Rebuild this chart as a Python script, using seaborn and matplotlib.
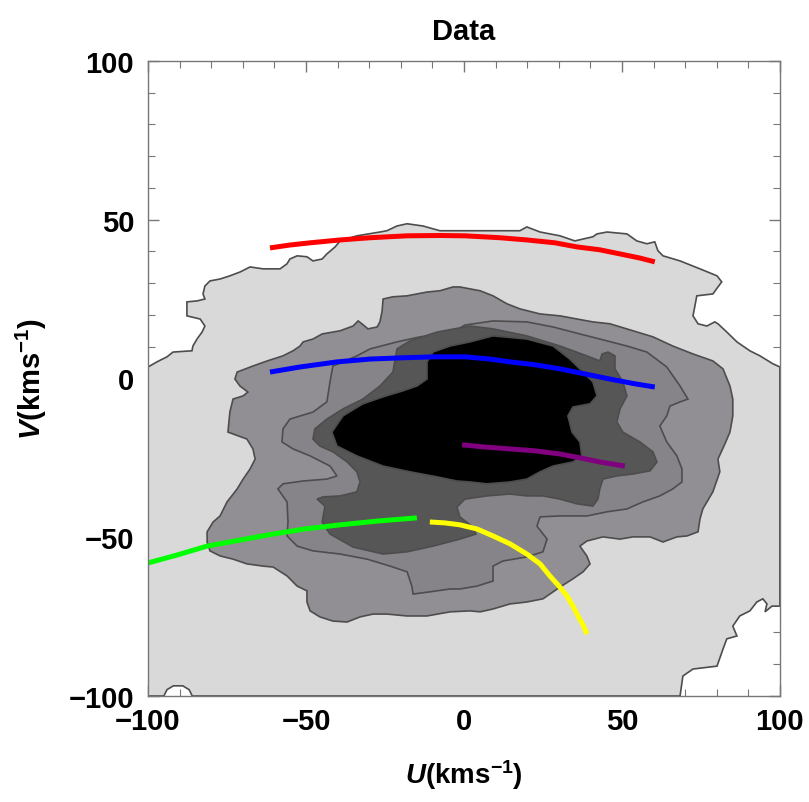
import matplotlib
matplotlib.use("Agg")
import matplotlib.pyplot as plt
from matplotlib.ticker import MultipleLocator
import seaborn as sns
import pandas as pd

# contour levels, (U, V) in km/s
level1 = [(-100, 3.6), (-97.2, 5.2), (-94.0, 6.8), (-92.1, 8.3), (-86.1, 8.7), (-85.8, 10.2),
          (-84.5, 12.4), (-82.9, 14.6), (-82.0, 16.5), (-83.5, 18.7), (-87.7, 19.7), (-87.7, 24.1),
          (-84.5, 24.4), (-82.0, 25.0), (-82.6, 26.6), (-82.0, 29.1), (-80.4, 30.7), (-77.2, 31.3),
          (-74.1, 32.3), (-70.9, 33.5), (-67.7, 35.1), (-63.6, 34.5), (-58.2, 34.5), (-56.0, 36.1),
          (-55.1, 37.6), (-52.8, 38.6), (-49.7, 38.3), (-47.8, 37.0), (-44.9, 37.6), (-43.4, 39.2),
          (-40.8, 41.4), (-39.2, 43.3), (-33.9, 44.9), (-26.6, 46.1), (-24.4, 46.5), (-21.2, 48.0),
          (-18.0, 48.7), (-13.0, 48.0), (-7.6, 46.5), (1.9, 46.5), (9.2, 46.5), (17.7, 46.5),
          (19.9, 47.7), (24.1, 46.1), (30.4, 44.9), (35.1, 43.3), (40.8, 44.6), (42.1, 45.5),
          (45.3, 46.1), (51.6, 45.5), (54.7, 43.3), (57.9, 42.4), (60.4, 43.0), (61.4, 40.2),
          (63.0, 38.6), (68.4, 37.0), (74.7, 34.5), (80.1, 32.3), (81.6, 30.4), (80.4, 28.8),
          (78.8, 26.6), (73.7, 26.0), (73.1, 22.8), (72.5, 19.7), (74.1, 17.2), (76.9, 16.5),
          (79.4, 17.8), (80.4, 17.2), (83.2, 14.6), (86.4, 11.5), (90.5, 8.7), (93.7, 7.1),
          (97.8, 4.6), (100, 3.6), (100, -71.7), (97.5, -71.7), (95.3, -73.5), (95.9, -71.0),
          (94.6, -69.4), (92.7, -70.4), (90.5, -73.2), (87.3, -74.8), (85.1, -78.0), (86.4, -81.1),
          (83.2, -82.0), (82.0, -85.2), (80.1, -90.6), (72.5, -91.5), (69.3, -93.7), (68.4, -100),
          (-86, -100), (-87, -98), (-89, -96.8), (-92, -96.8), (-94, -98), (-95, -100), (-100, -100)]

level2 = [(-74.1, -10.6), (-74.7, -16.9), (-68.7, -19.1), (-66.8, -22.2), (-66.1, -25.4), (-67.7, -28.5),
          (-69.9, -31.7), (-71.8, -34.8), (-75.0, -38.9), (-77.2, -43.3), (-79.4, -45.2), (-81.3, -48.3),
          (-81.3, -51.5), (-80.4, -54.3), (-77.2, -55.9), (-73.1, -56.9), (-68.7, -58.4), (-63.6, -59.1),
          (-60.4, -59.4), (-56.0, -62.2), (-52.8, -65.4), (-49.7, -66.9), (-49.7, -70.4), (-48.7, -73.2),
          (-45.6, -75.1), (-41.5, -76.4), (-37.0, -76.7), (-32.9, -75.1), (-28.8, -74.2), (-24.4, -74.2),
          (-18.0, -74.8), (-11.7, -74.8), (-4.4, -73.5), (1.9, -73.2), (5.1, -73.5), (9.2, -72.6),
          (14.6, -71.0), (19.9, -70.4), (25.0, -69.4), (30.4, -65.7), (34.5, -63.1), (37.7, -60.9),
          (39.9, -58.4), (38.9, -55.9), (36.7, -52.8), (38.9, -51.2), (44.0, -49.9), (49.4, -50.6),
          (53.5, -49.9), (58.9, -49.9), (63.0, -51.5), (67.4, -49.9), (70.6, -49.6), (74.1, -48.3),
          (74.7, -44.3), (75.6, -41.1), (78.8, -35.7), (81.0, -29.4), (80.4, -25.4), (82.6, -20.6),
          (84.2, -16.9), (85.1, -11.8), (85.1, -6.5), (84.2, -2.4), (82.0, 3.0), (78.8, 5.5),
          (72.5, 7.7), (66.1, 10.2), (59.8, 13.1), (53.5, 15.0), (46.2, 17.2), (40.8, 17.8),
          (35.8, 18.7), (30.4, 19.7), (24.1, 20.3), (17.7, 21.9), (13.6, 23.5), (9.2, 26.0),
          (5.1, 27.6), (-1.3, 28.8), (-3.5, 28.8), (-7.6, 27.6), (-11.7, 27.2), (-14.9, 26.6),
          (-18.0, 26.0), (-22.5, 25.7), (-25.6, 25.0), (-25.9, 21.3), (-26.6, 17.8), (-27.5, 16.2),
          (-30.4, 15.6), (-32.3, 17.2), (-33.5, 18.1), (-35.1, 16.5), (-39.2, 15.0), (-44.9, 14.0),
          (-47.8, 12.4), (-50.9, 11.5), (-51.9, 10.2), (-54.1, 8.7), (-57.3, 7.1), (-62.3, 5.5),
          (-66.8, 3.9), (-71.8, 2.0), (-72.5, -0.2), (-70.9, -2.4), (-68.4, -4.3), (-69.9, -5.5),
          (-73.1, -6.5)]

level3 = [(-33.9, 7.1), (-29.7, 9.3), (-21.2, 11.5), (-13.9, 13.1), (-4.4, 14.0), (0.3, 16.8),
          (9.2, 18.1), (19.9, 17.8), (28.2, 16.2), (36.7, 14.0), (43.0, 12.4), (51.6, 10.2),
          (57.9, 8.3), (64.2, 3.6), (68.4, -2.4), (70.9, -6.5), (68.4, -7.4), (65.2, -8.7),
          (64.2, -11.8), (62.0, -15.0), (64.2, -20.0), (67.4, -24.4), (69.0, -28.5), (69.0, -32.6),
          (66.1, -34.8), (62.0, -37.0), (56.6, -38.9), (51.6, -41.1), (45.3, -42.0), (39.0, -43.3),
          (30.4, -43.3), (24.1, -43.6), (23.1, -46.5), (26.3, -50.6), (25.0, -54.6), (19.9, -56.2),
          (12.3, -57.5), (9.2, -59.1), (9.2, -63.8), (4.1, -65.4), (-1.3, -66.3), (-4.4, -66.3),
          (-10.8, -67.2), (-16.1, -67.9), (-16.5, -65.4), (-18.0, -60.9), (-23.4, -59.1), (-30.7, -56.9),
          (-39.2, -55.3), (-47.8, -54.3), (-52.8, -52.8), (-56.0, -49.6), (-55.7, -45.2), (-56.0, -38.9),
          (-58.9, -34.8), (-57.3, -33.2), (-51.0, -32.3), (-43.4, -31.7), (-40.2, -30.7), (-42.4, -27.6),
          (-48.7, -24.4), (-54.1, -22.2), (-57.6, -20.0), (-57.3, -15.9), (-55.1, -12.8), (-47.8, -10.6),
          (-43.4, -7.4), (-42.4, -1.1), (-41.5, 3.9)]

level4 = [(1.9, 16.5), (-8.5, 14.6), (-17.1, 11.8), (-21.2, 9.3), (-22.5, 2.0), (-26.6, -2.4),
          (-32.0, -6.5), (-38.3, -9.6), (-43.4, -12.8), (-47.2, -15.9), (-47.8, -19.1), (-45.6, -21.3),
          (-41.5, -23.1), (-37.0, -26.3), (-33.9, -29.4), (-32.9, -32.6), (-33.9, -35.7), (-39.2, -37.0),
          (-44.6, -37.3), (-46.5, -38.0), (-44.0, -40.2), (-44.9, -45.2), (-42.4, -49.0), (-35.1, -53.1),
          (-25.6, -55.3), (-18.0, -54.6), (-9.8, -52.8), (-1.3, -50.6), (3.8, -49.0), (2.5, -46.5),
          (-1.3, -43.6), (-2.2, -40.5), (0.3, -38.0), (7.3, -37.0), (14.6, -36.4), (19.9, -37.0),
          (25.0, -37.0), (30.4, -38.0), (35.8, -39.5), (40.8, -40.2), (42.4, -38.0), (43.0, -34.8),
          (44.0, -31.7), (48.4, -30.7), (53.5, -30.1), (58.9, -29.1), (61.1, -26.3), (59.8, -23.1),
          (55.7, -20.0), (50.3, -16.9), (48.4, -13.7), (49.4, -9.6), (51.6, -5.5), (50.3, -1.1),
          (47.8, 3.0), (47.8, 7.1), (45.6, 8.3), (43.7, 7.7), (43.0, 5.5), (38.9, 7.1),
          (30.4, 10.2), (19.9, 13.4), (9.2, 15.6)]

level5 = [(-41.8, -16.9), (-38.3, -11.8), (-32.0, -8.0), (-25.6, -5.8), (-19.3, -3.9), (-14.9, -2.4),
          (-11.7, -0.2), (-11.7, 5.2), (-9.8, 8.3), (-4.4, 10.2), (1.9, 11.5), (9.2, 13.4),
          (19.9, 12.4), (28.2, 10.2), (33.5, 6.1), (37.7, 2.0), (40.8, -1.1), (42.1, -5.5),
          (39.9, -8.0), (34.5, -9.0), (32.9, -11.8), (34.2, -16.9), (36.7, -20.0), (37.3, -24.4),
          (34.5, -26.3), (28.2, -27.6), (24.1, -29.4), (19.9, -31.7), (14.6, -32.6), (7.3, -33.2),
          (1.9, -32.6), (-2.2, -32.3), (-8.5, -31.0), (-17.1, -29.4), (-25.6, -27.6), (-33.9, -24.4),
          (-40.2, -21.3)]

levels = [level1, level2, level3, level4, level5]
level_colors = ["#d9d9d9", "#918f94", "#868489", "#565656", "#000000"]

# the coloured curves
red_u = [-61.4, -55.1, -48.7, -39.2, -29.7, -18.0, -7.6, 0.3, 11.4, 19.9, 28.8, 35.8, 43.0, 49.4, 55.7, 60.4]
red_v = [41.1, 42.0, 42.7, 43.6, 44.3, 44.9, 45.0, 44.9, 44.3, 43.6, 42.7, 41.4, 40.5, 39.2, 37.9, 36.7]
blue_u = [-61.4, -51.9, -40.2, -29.7, -19.3, -9.2, 0.3, 8.2, 14.6, 22.5, 30.4, 38.3, 46.2, 54.1, 60.4]
blue_v = [2.0, 3.6, 5.2, 6.1, 6.5, 6.8, 6.8, 6.1, 5.2, 4.3, 3.0, 1.4, -0.2, -1.7, -2.7]
purple_u = [-0.6, 6.6, 14.6, 22.5, 30.4, 36.7, 43.0, 50.9]
purple_v = [-20.9, -21.6, -22.2, -22.8, -23.8, -25.0, -26.3, -27.6]
green_u = [-100, -90.8, -81.3, -70.9, -60.4, -50.3, -39.2, -27.2, -14.9]
green_v = [-58.1, -55.6, -52.8, -50.9, -49.0, -47.4, -46.1, -44.9, -43.9]
yellow_u = [-10.8, -6.0, -1.3, 4.1, 9.2, 14.6, 19.9, 24.1, 27.2, 30.1, 32.6, 34.5, 36.1, 37.7, 38.9]
yellow_v = [-45.2, -45.5, -46.1, -47.4, -49.6, -52.1, -55.3, -58.4, -62.2, -65.4, -68.5, -71.7,
            -74.8, -77.6, -80.5]

curves = [(red_u, red_v, "#ff0000"), (blue_u, blue_v, "#0000ff"), (purple_u, purple_v, "#800080"),
          (green_u, green_v, "#00ff00"), (yellow_u, yellow_v, "#ffff00")]

sns.set_style("ticks")
plt.rcParams["font.family"] = ["Liberation Sans", "DejaVu Sans"]
plt.rcParams["text.color"] = "black"
plt.rcParams["axes.labelcolor"] = "black"
plt.rcParams["xtick.labelcolor"] = "black"
plt.rcParams["ytick.labelcolor"] = "black"
plt.rcParams["mathtext.fontset"] = "custom"
plt.rcParams["mathtext.rm"] = "Liberation Sans:bold"
plt.rcParams["mathtext.it"] = "Liberation Sans:italic:bold"
plt.rcParams["mathtext.bf"] = "Liberation Sans:bold"

fig = plt.figure(figsize=(8.09, 8.03), dpi=100)
ax = fig.add_axes([0.183, 0.132, 0.781, 0.791])
ax.set_facecolor("white")

for pts, col in zip(levels, level_colors):
    u = [p[0] for p in pts]
    v = [p[1] for p in pts]
    ax.fill(u, v, facecolor=col, edgecolor="#4d4d4d", linewidth=1.2)

for cu, cv, col in curves:
    df = pd.DataFrame({"U": cu, "V": cv})
    sns.lineplot(data=df, x="U", y="V", color=col, linewidth=3.6, sort=False,
                 estimator=None, ax=ax, solid_capstyle="butt")

ax.set_xlim(-100, 100)
ax.set_ylim(-100, 100)
ax.set_xticks([-100, -50, 0, 50, 100])
ax.set_yticks([-100, -50, 0, 50, 100])
ax.xaxis.set_minor_locator(MultipleLocator(10))
ax.yaxis.set_minor_locator(MultipleLocator(10))
ax.tick_params(which="both", direction="in", top=True, right=True, color="#777777")
ax.tick_params(which="major", length=8, width=1.0, labelsize=21)
ax.tick_params(axis="y", which="major", pad=10)
ax.tick_params(axis="x", which="major", pad=8)
ax.tick_params(which="minor", length=5, width=0.8)
for lab in ax.get_xticklabels() + ax.get_yticklabels():
    lab.set_fontweight("bold")
for sp in ax.spines.values():
    sp.set_color("#777777")
    sp.set_linewidth(1.0)

ax.set_xlabel(r"$U$(kms$^{-1}$)", fontsize=20, fontweight="bold", labelpad=16)
ax.set_ylabel(r"$V$(kms$^{-1}$)", fontsize=21, fontweight="bold", labelpad=14)
ax.set_title("Data", fontsize=21, fontweight="bold", pad=16)

fig.savefig("out.png", dpi=100)
